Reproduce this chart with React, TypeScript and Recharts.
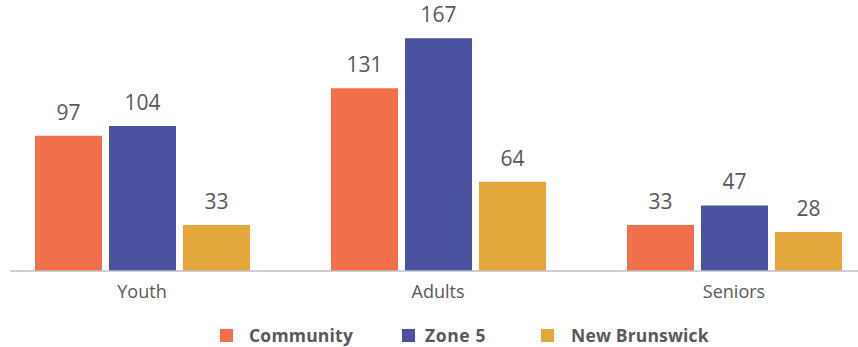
import React from 'react';
import { BarChart, Bar, XAxis, YAxis, Legend, LabelList } from 'recharts';

const CATEGORIES = ['Youth', 'Adults', 'Seniors'];
const COMMUNITY = [97, 131, 33];
const ZONE5 = [104, 167, 47];
const NEW_BRUNSWICK = [33, 64, 28];

const SERIES = [
    { key: 'community', name: 'Community', color: '#F1704B' },
    { key: 'zone5', name: 'Zone 5', color: '#4A52A0' },
    { key: 'nb', name: 'New Brunswick', color: '#E3A73C' },
];

const data = CATEGORIES.map((cat, i) => ({
    cat,
    community: COMMUNITY[i],
    zone5: ZONE5[i],
    nb: NEW_BRUNSWICK[i],
}));

const FONT = '"Open Sans", "Noto Sans", sans-serif';
const TEXT = '#595959';

const LegendContent = () => (
    <div style={{ display: 'flex', alignItems: 'center', height: 24, fontFamily: FONT, fontWeight: 700, fontSize: 17.5, color: TEXT }}>
        {SERIES.map((s, i) => (
            <div key={s.key} style={{ display: 'flex', alignItems: 'center', marginRight: i === 0 ? 49 : 55 }}>
                <div style={{ width: 13, height: 13, background: s.color, marginRight: i === 1 ? 10 : i === 2 ? 17 : 16 }} />
                <span style={{ letterSpacing: i === 1 ? 0.6 : i === 2 ? 0.15 : 0.2 }}>{s.name}</span>
            </div>
        ))}
    </div>
);

export default function App() {
    return (
        <div style={{ position: 'fixed', left: 10, top: 0, width: 848, height: 347, overflow: 'hidden', background: '#fff' }}>
            <div style={{ marginLeft: -16 }}>
                <BarChart
                    width={888}
                    height={347}
                    data={data}
                    margin={{ top: 20, right: 0, bottom: 0, left: 0 }}
                    barSize={67}
                    barGap={7}
                >
                    <XAxis
                        dataKey="cat"
                        axisLine={{ stroke: '#BFBFBF', strokeWidth: 1.5 }}
                        tickLine={false}
                        tickMargin={8}
                        height={52}
                        tick={{ fill: TEXT, fontSize: 18, fontFamily: FONT }}
                    />
                    <YAxis hide domain={[0, 180]} />
                    <Legend
                        verticalAlign="bottom"
                        content={<LegendContent />}
                        wrapperStyle={{ left: 226, width: 640, height: 24 }}
                    />
                    {SERIES.map((s) => (
                        <Bar key={s.key} dataKey={s.key} name={s.name} fill={s.color} isAnimationActive={false}>
                            <LabelList dataKey={s.key} position="top" offset={16} fill={TEXT} fontSize={21} fontFamily={FONT} />
                        </Bar>
                    ))}
                </BarChart>
            </div>
        </div>
    );
}
